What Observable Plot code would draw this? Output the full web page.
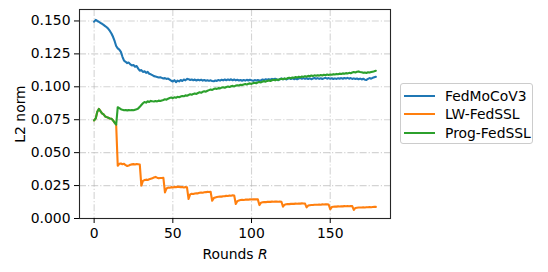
<!DOCTYPE html>
<html>
<head>
<meta charset="utf-8">
<script src="https://cdn.jsdelivr.net/npm/d3@7"></script>
<script src="https://cdn.jsdelivr.net/npm/@observablehq/plot@0.6"></script>
<style>
  html, body { margin: 0; padding: 0; background: white; }
  #wrap { position: relative; width: 548px; height: 272px; font-family: "DejaVu Sans", sans-serif; }
  #legend { position: absolute; left: 400px; top: 83px; width: 133px; height: 61px; border: 1px solid #cccccc; border-radius: 3px; background: rgba(255,255,255,0.8); box-sizing: border-box; }
  .row { position: absolute; left: 0; height: 18px; display: flex; align-items: center; font-size: 13.9px; color: #000; white-space: nowrap; }
  .sw { display: inline-block; width: 31px; height: 2px; margin-left: 3px; margin-right: 10px; }
</style>
</head>
<body>
<div id="wrap"></div>
<script>
// ---- Data ----
const seriesNames = ["FedMoCoV3", "LW-FedSSL", "Prog-FedSSL"];
const seriesColors = ["#1f77b4", "#ff7f0e", "#2ca02c"];
const xTicks = [0, 50, 100, 150];
const yTicks = [0, 0.025, 0.05, 0.075, 0.1, 0.125, 0.15];

const fedMoCoV3 = [
  0.1495,0.1508,0.1500,0.1494,0.1486,0.1479,0.1470,0.1461,0.1452,0.1440,
  0.1424,0.1405,0.1380,0.1348,0.1310,0.1292,0.1282,0.1265,0.1228,0.1198,
  0.1190,0.1180,0.1184,0.1170,0.1162,0.1165,0.1152,0.1158,0.1138,0.1122,
  0.1127,0.1113,0.1118,0.1106,0.1114,0.1099,0.1095,0.1088,0.1081,0.1078,
  0.1075,0.1071,0.1073,0.1068,0.1063,0.1066,0.1060,0.1063,0.1055,0.1046,
  0.1040,0.1050,0.1035,0.1047,0.1041,0.1052,0.1044,0.1055,0.1049,0.1060,
  0.1058,0.1052,0.1056,0.1050,0.1055,0.1048,0.1053,0.1049,0.1054,0.1047,
  0.1051,0.1046,0.1050,0.1045,0.1049,0.1044,0.1042,0.1048,0.1045,0.1052,
  0.1047,0.1054,0.1049,0.1055,0.1050,0.1056,0.1051,0.1057,0.1050,0.1055,
  0.1049,0.1053,0.1048,0.1052,0.1046,0.1051,0.1047,0.1053,0.1048,0.1054,
  0.1049,0.1045,0.1051,0.1047,0.1052,0.1046,0.1050,0.1055,0.1051,0.1057,
  0.1053,0.1058,0.1054,0.1060,0.1055,0.1061,0.1056,0.1050,0.1058,0.1063,
  0.1057,0.1062,0.1056,0.1061,0.1066,0.1059,0.1064,0.1058,0.1063,0.1057,
  0.1062,0.1068,0.1061,0.1066,0.1060,0.1065,0.1059,0.1064,0.1058,0.1063,
  0.1067,0.1061,0.1066,0.1060,0.1065,0.1059,0.1064,0.1068,0.1062,0.1066,
  0.1061,0.1065,0.1059,0.1064,0.1060,0.1065,0.1062,0.1066,0.1061,0.1067,
  0.1063,0.1068,0.1062,0.1066,0.1060,0.1064,0.1059,0.1063,0.1057,0.1062,
  0.1056,0.1061,0.1054,0.1052,0.1060,0.1066,0.1062,0.1068,0.1072,0.1076
];

const lwFedSSL = [
  0.0745,0.0760,0.0810,0.0832,0.0815,0.0798,0.0790,0.0775,0.0770,0.0765,
  0.0760,0.0758,0.0745,0.0728,0.0712,0.0400,0.0415,0.0418,0.0412,0.0416,
  0.0405,0.0399,0.0403,0.0408,0.0411,0.0413,0.0410,0.0414,0.0412,0.0410,
  0.0250,0.0285,0.0292,0.0295,0.0293,0.0298,0.0302,0.0305,0.0312,0.0316,
  0.0310,0.0306,0.0308,0.0307,0.0309,0.0198,0.0228,0.0235,0.0233,0.0238,
  0.0236,0.0240,0.0238,0.0242,0.0240,0.0238,0.0239,0.0236,0.0238,0.0237,
  0.0148,0.0183,0.0188,0.0186,0.0190,0.0192,0.0191,0.0195,0.0197,0.0196,
  0.0199,0.0200,0.0202,0.0201,0.0203,0.0135,0.0155,0.0160,0.0163,0.0165,
  0.0167,0.0166,0.0169,0.0170,0.0172,0.0171,0.0174,0.0173,0.0176,0.0175,
  0.0110,0.0132,0.0137,0.0140,0.0142,0.0141,0.0143,0.0144,0.0143,0.0145,
  0.0144,0.0146,0.0145,0.0146,0.0145,0.0102,0.0120,0.0123,0.0125,0.0124,
  0.0126,0.0127,0.0126,0.0128,0.0127,0.0129,0.0128,0.0127,0.0128,0.0127,
  0.0090,0.0105,0.0108,0.0110,0.0109,0.0111,0.0112,0.0111,0.0113,0.0112,
  0.0114,0.0113,0.0115,0.0114,0.0113,0.0085,0.0098,0.0101,0.0103,0.0102,
  0.0104,0.0105,0.0104,0.0106,0.0105,0.0107,0.0106,0.0108,0.0107,0.0106,
  0.0070,0.0087,0.0089,0.0091,0.0090,0.0092,0.0091,0.0093,0.0092,0.0094,
  0.0093,0.0094,0.0093,0.0095,0.0094,0.0065,0.0080,0.0082,0.0083,0.0084,
  0.0083,0.0085,0.0084,0.0086,0.0085,0.0087,0.0086,0.0087,0.0088,0.0088
];

const progFedSSL = [
  0.0745,0.0760,0.0810,0.0832,0.0815,0.0798,0.0790,0.0775,0.0770,0.0765,
  0.0760,0.0758,0.0745,0.0728,0.0712,0.0845,0.0838,0.0830,0.0825,0.0822,
  0.0824,0.0821,0.0823,0.0822,0.0824,0.0822,0.0826,0.0830,0.0835,0.0848,
  0.0862,0.0875,0.0885,0.0880,0.0890,0.0885,0.0893,0.0890,0.0888,0.0892,
  0.0889,0.0895,0.0892,0.0896,0.0900,0.0905,0.0902,0.0910,0.0915,0.0918,
  0.0914,0.0920,0.0917,0.0924,0.0921,0.0926,0.0930,0.0928,0.0935,0.0932,
  0.0938,0.0943,0.0940,0.0946,0.0950,0.0946,0.0953,0.0958,0.0955,0.0962,
  0.0966,0.0963,0.0970,0.0975,0.0980,0.0976,0.0983,0.0987,0.0984,0.0990,
  0.0988,0.0994,0.0997,0.0993,0.0999,0.1002,0.0998,0.1004,0.1007,0.1003,
  0.1009,0.1012,0.1010,0.1015,0.1013,0.1018,0.1021,0.1017,0.1023,0.1026,
  0.1022,0.1028,0.1031,0.1027,0.1034,0.1037,0.1033,0.1040,0.1043,0.1039,
  0.1045,0.1048,0.1044,0.1050,0.1053,0.1049,0.1055,0.1052,0.1058,0.1061,
  0.1057,0.1063,0.1060,0.1066,0.1069,0.1065,0.1071,0.1068,0.1074,0.1070,
  0.1076,0.1072,0.1078,0.1075,0.1081,0.1077,0.1083,0.1080,0.1086,0.1082,
  0.1087,0.1084,0.1088,0.1085,0.1090,0.1086,0.1091,0.1088,0.1093,0.1090,
  0.1094,0.1091,0.1096,0.1093,0.1098,0.1095,0.1100,0.1097,0.1102,0.1099,
  0.1104,0.1101,0.1106,0.1103,0.1108,0.1112,0.1109,0.1114,0.1117,0.1113,
  0.1110,0.1106,0.1109,0.1105,0.1110,0.1108,0.1112,0.1115,0.1118,0.1122
];

const allSeries = [fedMoCoV3, lwFedSSL, progFedSSL];
const gridStyle = {stroke: "#b0b0b0", strokeOpacity: 0.55, strokeWidth: 1.1, strokeDasharray: "7,2,1.2,2"};

const chart = Plot.plot({
  width: 548,
  height: 272,
  marginLeft: 79,
  marginRight: 158,
  marginTop: 9,
  marginBottom: 54,
  style: {fontFamily: "DejaVu Sans, sans-serif", fontSize: "13.9px", background: "transparent", color: "#000"},
  x: {domain: [-9.3, 188.3]},
  y: {domain: [0, 0.1587]},
  marks: [
    Plot.gridX(xTicks, gridStyle),
    Plot.gridY(yTicks, gridStyle),
    ...allSeries.map((s, i) => Plot.lineY(s, {stroke: seriesColors[i], strokeWidth: 2.1})),
    Plot.frame({stroke: "#262626", strokeWidth: 1.1}),
    Plot.axisX(xTicks, {tickSize: 5, tickPadding: 5, fontSize: 13.9, label: "Rounds R", labelAnchor: "center", labelArrow: "none", labelOffset: 40}),
    Plot.axisY(yTicks, {tickSize: 5, tickPadding: 4, fontSize: 13.9, tickFormat: d3.format(".3f"), label: "L2 norm", labelAnchor: "center", labelArrow: "none", labelOffset: 64})
  ]
});

const wrap = document.getElementById("wrap");
wrap.appendChild(chart);

// italic R in the x-axis label
const xl = chart.querySelector('[aria-label="x-axis label"] text');
if (xl) {
  xl.textContent = "Rounds ";
  const t = document.createElementNS("http://www.w3.org/2000/svg", "tspan");
  t.setAttribute("font-style", "italic");
  t.textContent = "R";
  xl.appendChild(t);
}

// legend
const legend = document.createElement("div");
legend.id = "legend";
seriesNames.forEach((name, i) => {
  const row = document.createElement("div");
  row.className = "row";
  row.style.top = (3 + i * 18.3) + "px";
  const sw = document.createElement("span");
  sw.className = "sw";
  sw.style.background = seriesColors[i];
  row.appendChild(sw);
  row.appendChild(document.createTextNode(name));
  legend.appendChild(row);
});
wrap.appendChild(legend);
</script>
</body>
</html>
